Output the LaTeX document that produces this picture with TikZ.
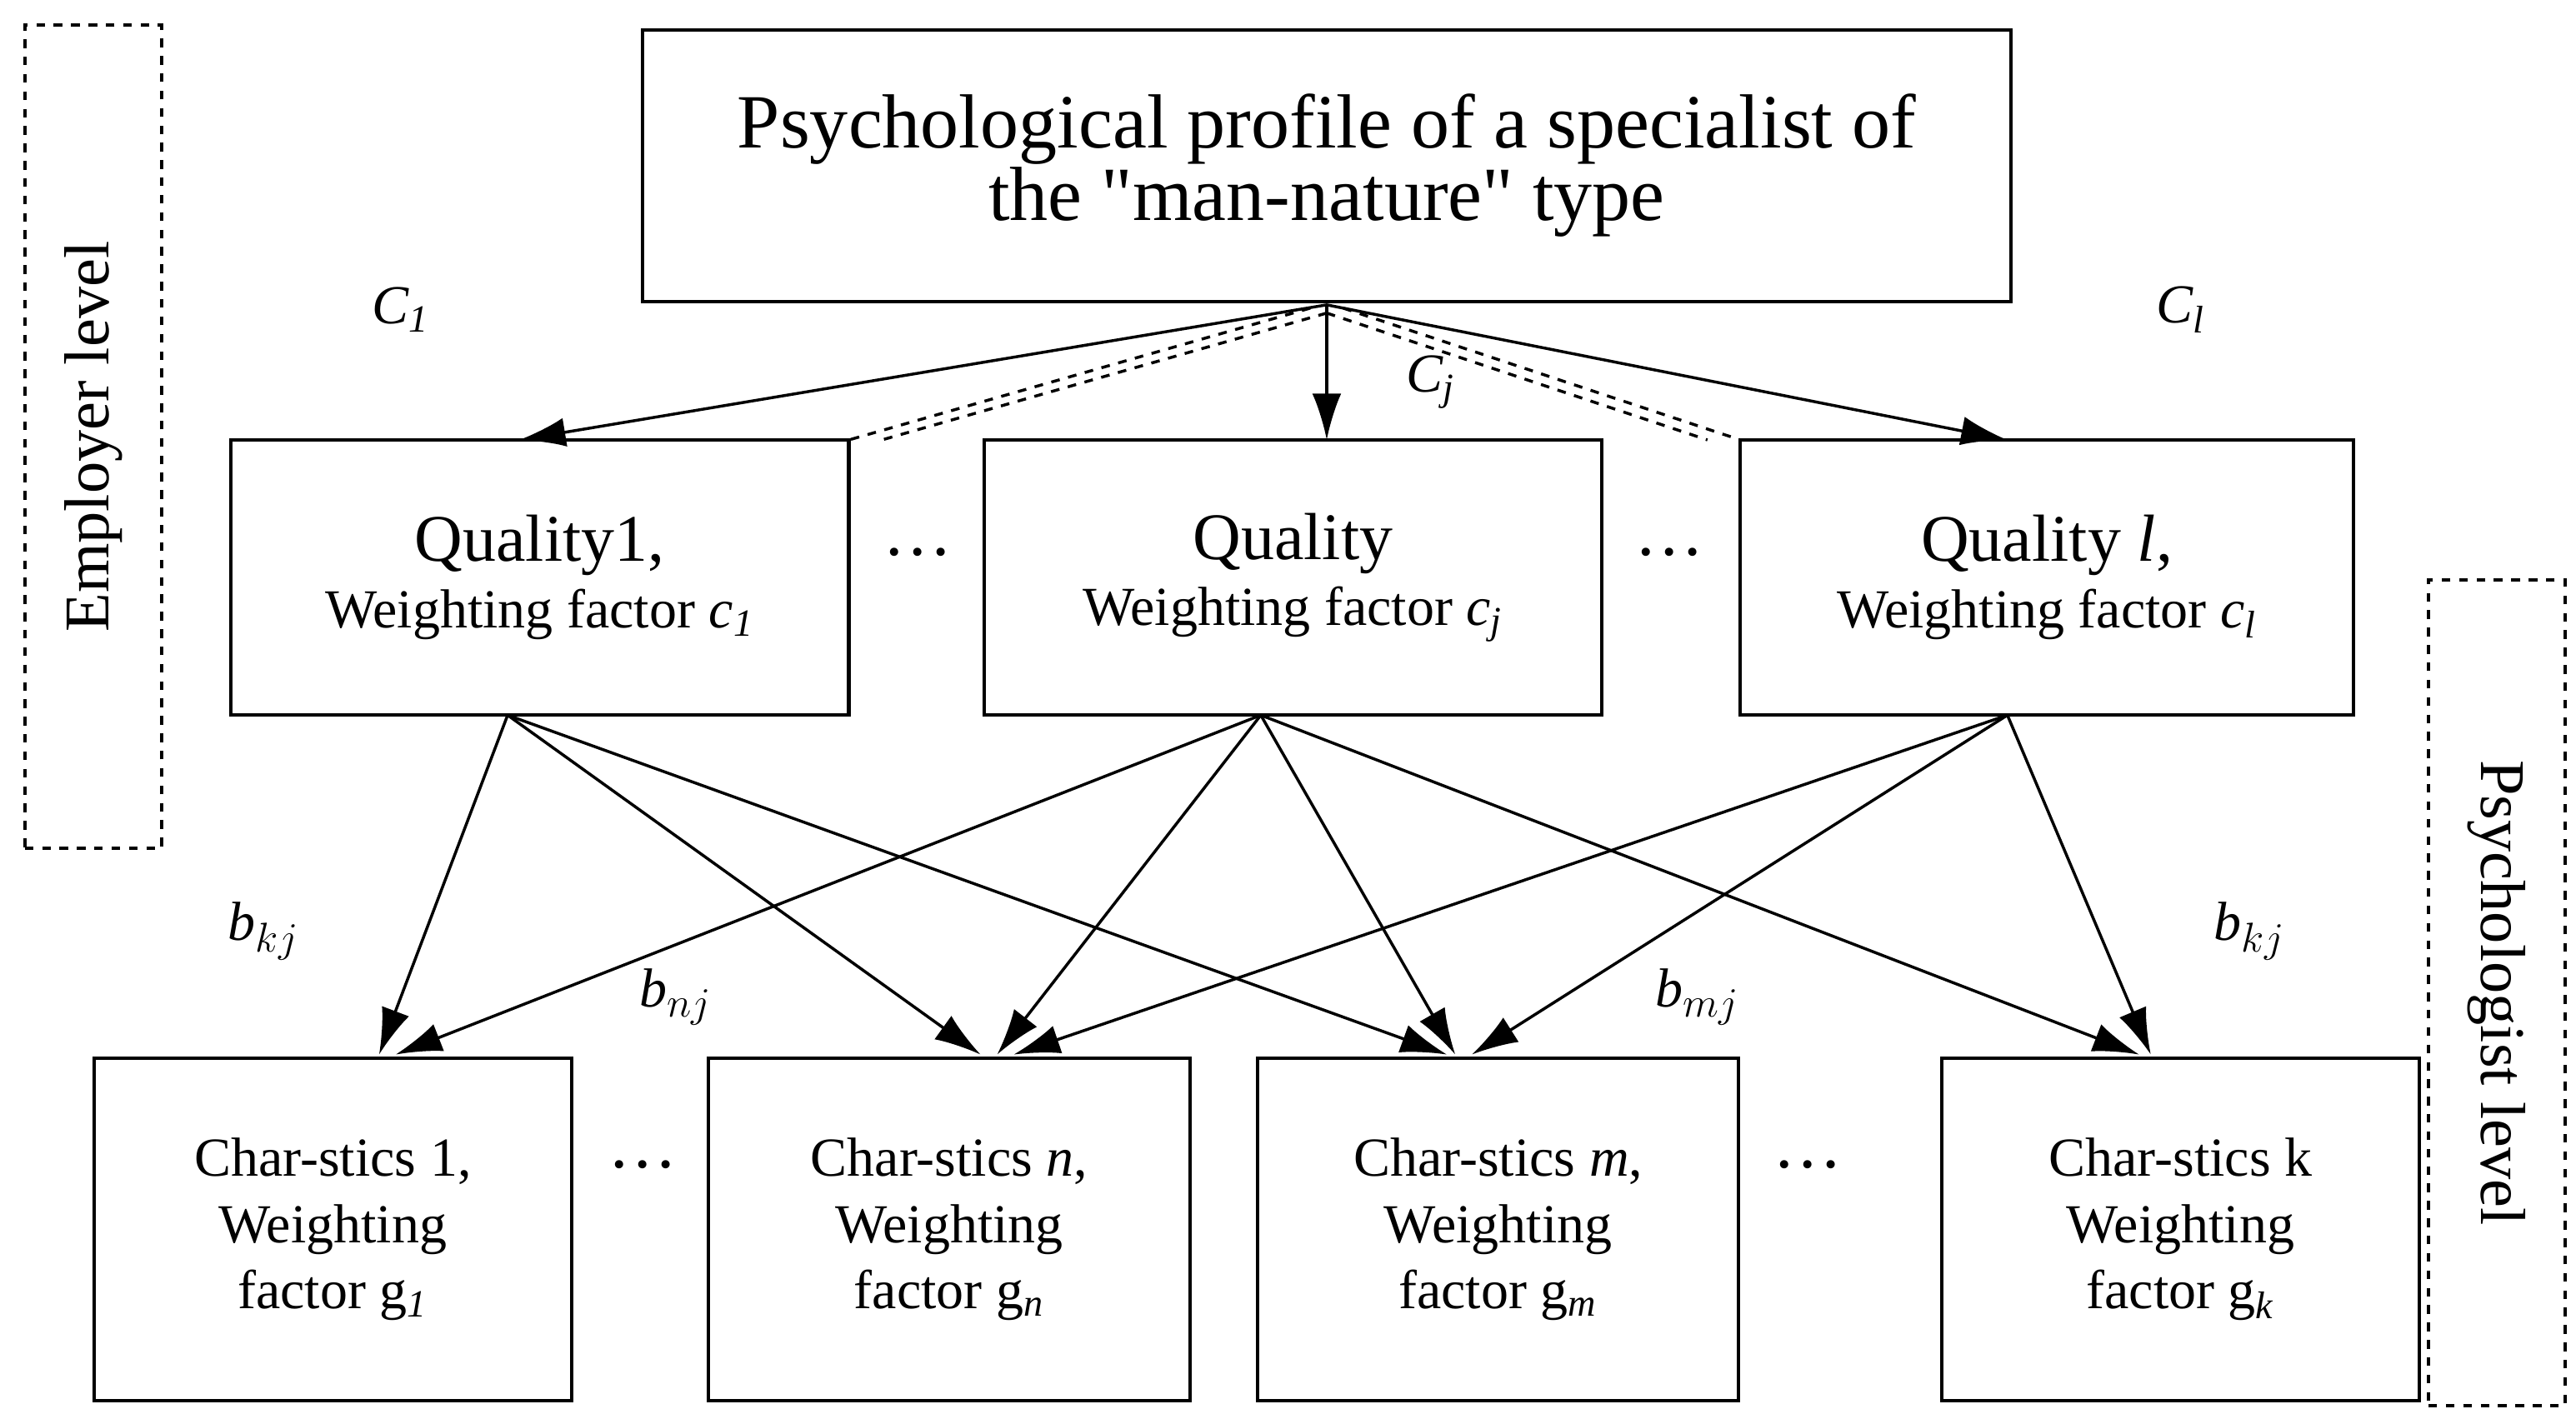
\documentclass[tikz,border=0pt]{standalone}
\usepackage{fontspec}
\setmainfont{Liberation Serif}
\setmonofont{Liberation Serif}
\usetikzlibrary{arrows.meta}
\begin{document}
\begin{tikzpicture}[x=0.02cm,y=-0.02cm,
 box/.style={draw,line width=1.2pt,inner sep=0pt,align=center,font=\fontsize{19}{23}\selectfont},
 lab/.style={draw,dashed,line width=1.2pt,inner sep=0pt},
 arr/.style={-{Latex[length=16pt,width=10pt]},line width=1pt},
 dl/.style={dashed,line width=1pt},
 it/.style={font=\fontsize{19}{23}\selectfont\itshape}]
\useasboundingbox (0,0) rectangle (1563,861);
\newcommand{\bx}[6]{\node[box,minimum width={(#4-#2)*0.02cm},minimum height={(#5-#3)*0.02cm}] (#1) at ({(#2+#4)/2},{(#3+#5)/2}) {#6};}
\bx{top}{390}{18}{1220}{183}{\fontsize{26.5}{31}\selectfont Psychological profile of a specialist of\\\fontsize{26.5}{31}\selectfont the \texttt{"}man-nature\texttt{"} type}
\bx{q1}{140}{267}{515}{434}{\fontsize{23}{28}\selectfont Quality1,\\Weighting factor \textit{c}$_{\mathit 1}$}
\bx{qj}{597}{267}{972}{434}{\fontsize{23}{28}\selectfont Quality\\Weighting factor \textit{c}$_{\mathit j}$}
\bx{ql}{1056}{267}{1428}{434}{\fontsize{23}{28}\selectfont Quality \textit{l},\\Weighting factor \textit{c}$_{\mathit l}$}
\bx{b1}{57}{642}{347}{850}{Char-stics 1,\\Weighting\\factor g$_{\mathit 1}$}
\bx{bn}{430}{642}{722}{850}{Char-stics \textit{n},\\Weighting\\factor g$_{\mathit n}$}
\bx{bm}{763}{642}{1055}{850}{Char-stics \textit{m},\\Weighting\\factor g$_{\mathit m}$}
\bx{bk}{1178}{642}{1468}{850}{Char-stics k\\Weighting\\factor g$_{\mathit k}$}
\node[lab,minimum width=1.66cm,minimum height=10cm] (emp) at (56.5,265) {};
\node[rotate=90,font=\fontsize{22}{26}\selectfont] (empt) at (emp) {Employer level};
\node[lab,minimum width=1.66cm,minimum height=10.02cm] (psy) at (1515,602.5) {};
\node[rotate=-90,font=\fontsize{22}{26}\selectfont] (psyt) at (psy) {Psychologist level};
\coordinate (o) at (805,185);
\draw[arr] (o) -- (315,267);
\draw[arr] (o) -- (805,267);
\draw[arr] (o) -- (1218,267);
\draw[dl] (795,187) -- (515,267); \draw[dl] (805,190) -- (535,267);
\draw[dl] (815,187) -- (1056,267); \draw[dl] (805,190) -- (1036,267);
\node[it] (c1) at (243,188) {C$_{\mathit 1}$};
\node[it] (cl) at (1323,188) {C$_{\mathit l}$};
\node[it] (cj) at (868,232) {C$_{\mathit j}$};
\coordinate (a1) at (308,434); \coordinate (aj) at (765,434); \coordinate (al) at (1218,434);
\draw[arr] (a1) -- (230,640); \draw[arr] (a1) -- (595,640); \draw[arr] (a1) -- (878,640);
\draw[arr] (aj) -- (240,640); \draw[arr] (aj) -- (605,640); \draw[arr] (aj) -- (883,640); \draw[arr] (aj) -- (1298,640);
\draw[arr] (al) -- (615,640); \draw[arr] (al) -- (893,640); \draw[arr] (al) -- (1305,640);
\node[it] (l1) at (160,565) {b$_{kj}$};
\node[it] (l2) at (410,605) {b$_{nj}$};
\node[it] (l3) at (1030,605) {b$_{mj}$};
\node[it] (l4) at (1365,565) {b$_{kj}$};
\node[font=\fontsize{24}{28}\selectfont] (d1) at (557,335) {\dots};
\node[font=\fontsize{24}{28}\selectfont] (d2) at (1013,335) {\dots};
\node[font=\fontsize{24}{28}\selectfont] (d3) at (390,707) {\dots};
\node[font=\fontsize{24}{28}\selectfont] (d4) at (1097,707) {\dots};
\end{tikzpicture}
\end{document}
